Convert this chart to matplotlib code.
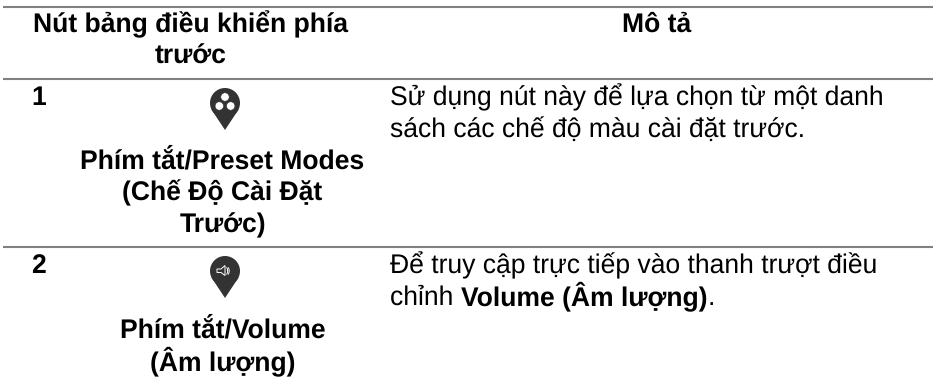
import matplotlib
matplotlib.use("Agg")
import matplotlib.pyplot as plt
from matplotlib.patches import Circle, Polygon

plt.rcParams["font.family"] = ["Liberation Sans", "DejaVu Sans"]
plt.rcParams["text.hinting"] = "no_hinting"

encabezados = [["Nút bảng điều khiển phía", "trước"], ["Mô tả"]]
numeros = ["1", "2"]
nombres_fila1 = ["Phím tắt/Preset Modes", "(Chế Độ Cài Đặt", "Trước)"]
nombres_fila2 = ["Phím tắt/Volume", "(Âm lượng)"]
desc_fila1 = ["Sử dụng nút này để lựa chọn từ một danh", "sách các chế độ màu cài đặt trước."]
desc_fila2 = ["Để truy cập trực tiếp vào thanh trượt điều"]
desc_fila2_partes = [("chỉnh ", "normal"), ("Volume (Âm lượng)", "bold"), (".", "normal")]

TAM = 19.1
GRIS = "#808080"
OSCURO = "#333333"


def pin(ax, cx, cy):
    # cuerpo del icono: círculo + punta hacia abajo
    ax.add_patch(Polygon([(cx - 13.6, cy + 6.5), (cx, cy + 27), (cx + 13.6, cy + 6.5)], fc=OSCURO, ec="none"))
    ax.add_patch(Circle((cx, cy), 15, fc=OSCURO, ec="none"))


fig = plt.figure(figsize=(9.33, 3.8), dpi=100)
ax = fig.add_axes([0, 0, 1, 1])
ax.set_xlim(0, 933)
ax.set_ylim(380, 0)
ax.axis("off")

for y in [6.5, 78.5, 247]:
    ax.plot([3, 933], [y, y], color=GRIS, lw=1.5, solid_capstyle="butt")

# cabecera
for y, linea in zip([32, 64], encabezados[0]):
    ax.text(191, y, linea, fontsize=TAM, fontweight="bold", ha="center", va="baseline")
ax.text(657, 32, encabezados[1][0], fontsize=TAM, fontweight="bold", ha="center", va="baseline")

# numeros
for y, n in zip([105, 273], numeros):
    ax.text(31, y, n, fontsize=TAM, fontweight="bold", va="baseline")

# nombres
for y, linea in zip([168, 200, 232], nombres_fila1):
    ax.text(222.5, y, linea, fontsize=TAM, fontweight="bold", ha="center", va="baseline")
for y, linea in zip([337, 370], nombres_fila2):
    ax.text(222.5, y, linea, fontsize=TAM, fontweight="bold", ha="center", va="baseline")

# descripciones
for y, linea in zip([105, 137], desc_fila1):
    ax.text(390, y, linea, fontsize=TAM, va="baseline")
ax.text(390, 273, desc_fila2[0], fontsize=TAM, va="baseline")

# linea con negrita: se mide cada trozo para colocar el siguiente
fig.canvas.draw()
r = fig.canvas.get_renderer()
x = 390
for parte, peso in desc_fila2_partes:
    medida = ax.text(0, 0, parte.replace(" ", "\u00a0"), fontsize=TAM, fontweight=peso)
    ancho = medida.get_window_extent(r).width
    medida.remove()
    ax.text(x, 305, parte, fontsize=TAM, fontweight=peso, va="baseline")
    x += ancho

# icono 1: tres círculos blancos
pin(ax, 225, 103)
for dx, dy in [(0, -6), (-5.7, 3), (5.7, 3)]:
    ax.add_patch(Circle((225 + dx, 103 + dy), 4.2, fc="white", ec=OSCURO, lw=0.4))

# icono 2: altavoz
pin(ax, 225, 271)
ax.add_patch(Polygon([(217, 269), (221, 269), (225, 265.5), (225, 275.5), (221, 272.5), (217, 272.5)],
                     fc="none", ec="white", lw=0.7))
ax.text(228.5, 271, "))", fontsize=5.5, color="white", ha="center", va="center", fontweight="bold")

fig.savefig("out.png", dpi=100)
plt.close(fig)
